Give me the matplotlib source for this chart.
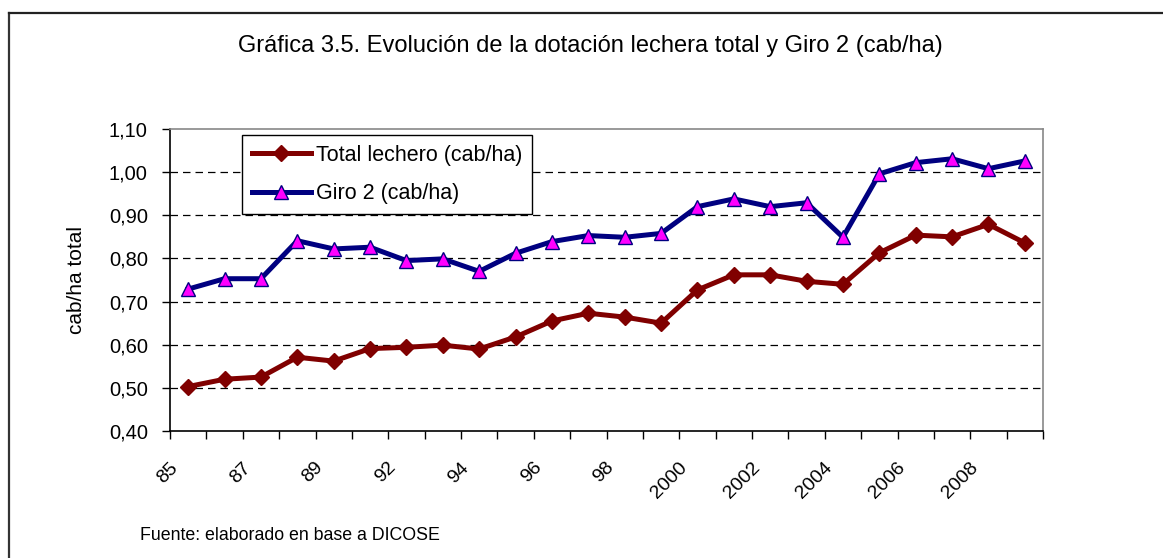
import matplotlib
matplotlib.use("Agg")
import matplotlib.pyplot as plt
from matplotlib.lines import Line2D
import matplotlib.transforms as mtransforms

plt.rcParams['font.family'] = ['Liberation Sans', 'DejaVu Sans']

categories = ["85", "86", "87", "88", "89", "90", "92", "93", "94", "95", "96", "97",
              "98", "99", "2000", "2001", "2002", "2003", "2004", "2005", "2006",
              "2007", "2008", "2009"]
tick_labels = ["85", "", "87", "", "89", "", "92", "", "94", "", "96", "", "98", "",
               "2000", "", "2002", "", "2004", "", "2006", "", "2008", ""]
total_lechero = [0.503, 0.520, 0.525, 0.571, 0.562, 0.591, 0.594, 0.599, 0.590,
                 0.618, 0.655, 0.673, 0.664, 0.650, 0.727, 0.762, 0.762, 0.747,
                 0.740, 0.813, 0.854, 0.850, 0.879, 0.836]
giro2 = [0.729, 0.753, 0.753, 0.841, 0.822, 0.826, 0.795, 0.799, 0.770, 0.812,
         0.839, 0.853, 0.849, 0.858, 0.920, 0.938, 0.920, 0.929, 0.849, 0.996,
         1.022, 1.031, 1.008, 1.026]

W, H = 1163, 558
fig = plt.figure(figsize=(W / 100, H / 100), dpi=100)

# outer border (top and left visible)
fig.add_artist(Line2D([8.5 / W, 8.5 / W], [0, 1 - 12.5 / H], transform=fig.transFigure,
                      color='#333333', lw=1.6))
fig.add_artist(Line2D([8.5 / W, 1], [1 - 12.5 / H, 1 - 12.5 / H], transform=fig.transFigure,
                      color='#222222', lw=1.6))

left, right, top, bottom = 170, 1043, 129, 431
ax = fig.add_axes([left / W, 1 - bottom / H, (right - left) / W, (bottom - top) / H])

x = list(range(len(categories)))
ax.plot(x, total_lechero, color='#800000', lw=3.6, marker='D', ms=8,
        mfc='#800000', mec='#800000', label='Total lechero (cab/ha)')
ax.plot(x, giro2, color='#000080', lw=3.6, marker='^', ms=10,
        mfc='#FF00FF', mec='#000080', mew=1.0, label='Giro 2 (cab/ha)')

ax.set_xlim(-0.5, len(categories) - 0.5)
ax.set_ylim(0.40, 1.10)
yt = [0.40, 0.50, 0.60, 0.70, 0.80, 0.90, 1.00, 1.10]
ax.set_yticks(yt)
ax.set_yticklabels([f"{v:.2f}".replace('.', ',') for v in yt], fontsize=14.5)
for v in yt[1:-1]:
    ax.axhline(v, color='black', lw=0.9, ls=(0, (6, 4)), zorder=0)

ax.set_xticks([i - 0.5 for i in range(len(categories) + 1)], minor=True)
ax.set_xticks([])
ax.tick_params(axis='x', which='minor', length=6, width=1, direction='out', color='black')
ax.tick_params(axis='y', length=6, width=1, direction='out', color='black', pad=10)

# rotated category labels
base = mtransforms.blended_transform_factory(ax.transData, ax.transAxes)
offset = mtransforms.ScaledTranslation(-7 / 100, -28 / 100, fig.dpi_scale_trans)
for i, lab in enumerate(tick_labels):
    if lab:
        ax.text(i, 0, lab, transform=base + offset, rotation=45, ha='right', va='top',
                fontsize=14, clip_on=False)

ax.spines['left'].set_color('black')
ax.spines['bottom'].set_color('black')
ax.spines['top'].set_color('#888888')
ax.spines['right'].set_color('#888888')
for s in ax.spines.values():
    s.set_linewidth(1.2)

fig.text(76 / W, 1 - 280 / H, 'cab/ha total', rotation=90, ha='center', va='center',
         fontsize=15)

leg = ax.legend(loc='upper left', bbox_to_anchor=((242 - left) / (right - left), 1 - (135 - top) / (bottom - top)),
                fontsize=15.5, frameon=True, fancybox=False, edgecolor='black',
                framealpha=1, borderpad=0.45, handlelength=2.75, handletextpad=0.25,
                labelspacing=0.82, borderaxespad=0)
leg.get_frame().set_linewidth(1.0)

fig.text(590 / W, 1 - 46 / H, 'Gráfica 3.5. Evolución de la dotación lechera total y Giro 2 (cab/ha)',
         ha='center', va='center', fontsize=17)
fig.text(140 / W, 1 - 536 / H, 'Fuente: elaborado en base a DICOSE', ha='left', va='center',
         fontsize=12.8)

fig.savefig('out.png', dpi=100)
